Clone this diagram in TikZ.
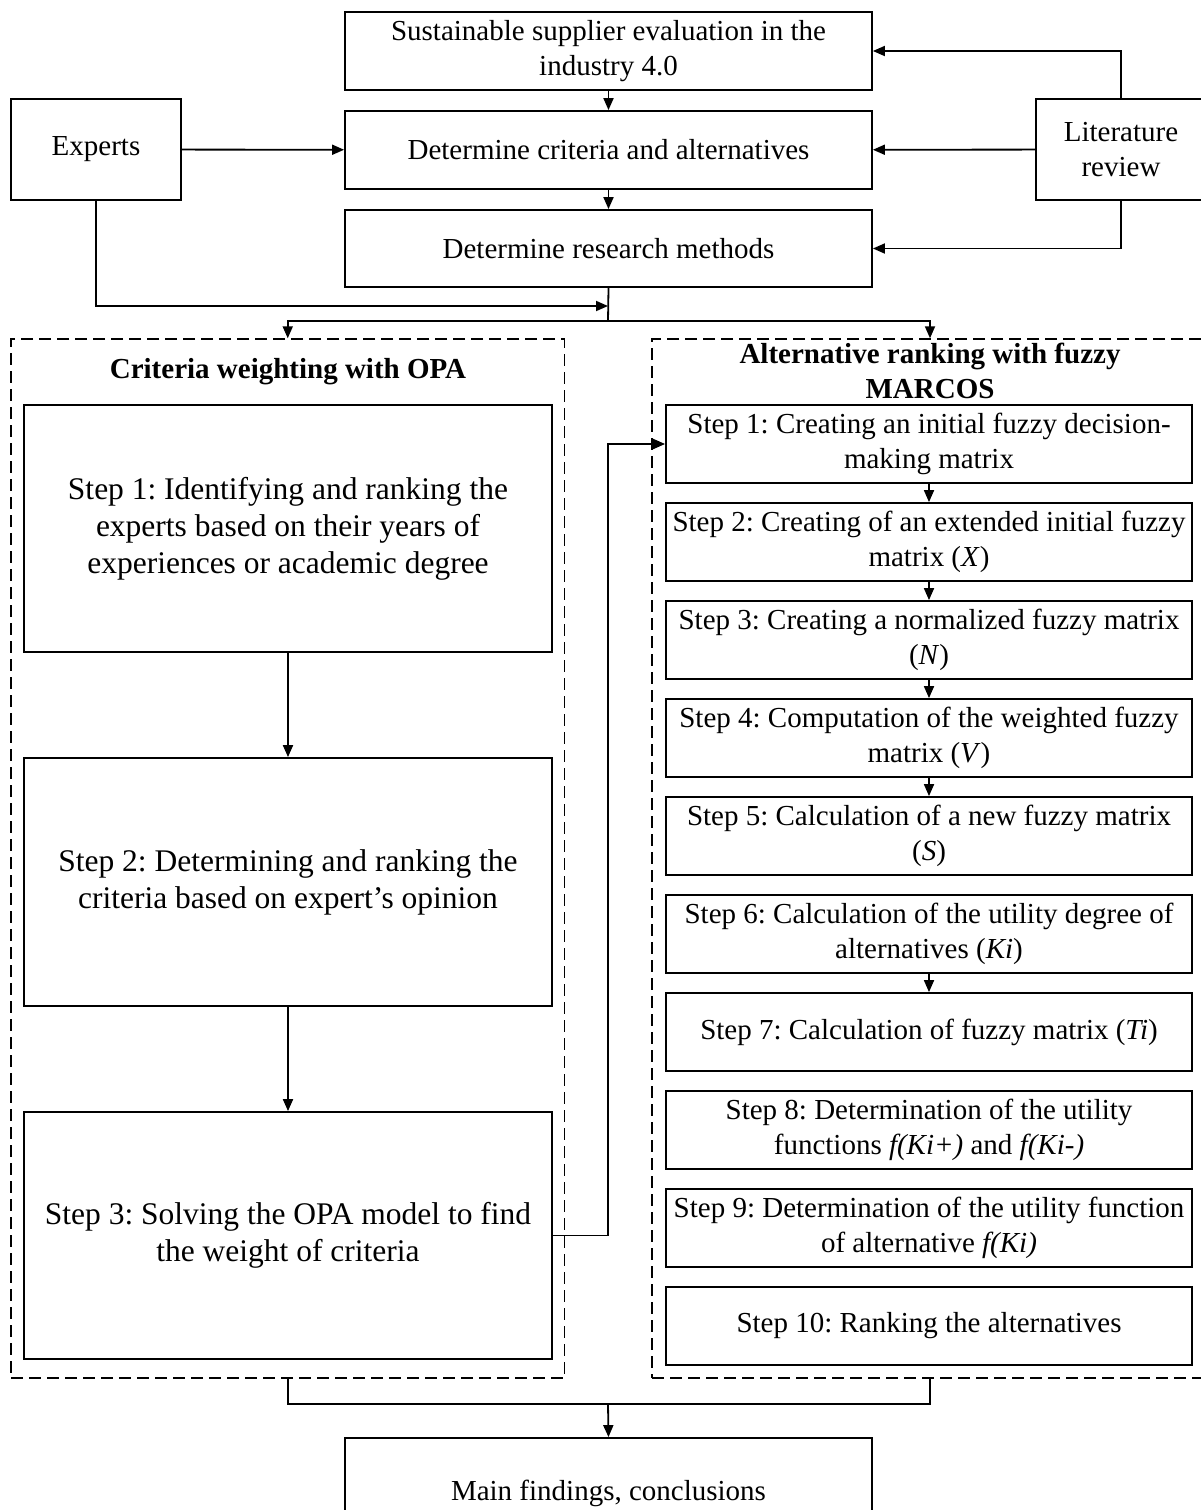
\documentclass[tikz,border=0pt]{standalone}
\usepackage{fontspec}
\setmainfont{Liberation Serif}
\usetikzlibrary{arrows.meta}
\newcommand\tfs{\fontsize{29}{35}\selectfont\frenchspacing}
\newcommand\lfs{\fontsize{31.5}{37}\selectfont\frenchspacing}
\begin{document}
\frenchspacing
\begin{tikzpicture}[x=1pt,y=-1pt,
  box/.style={draw, line width=1.8pt, inner sep=0pt, align=center, font=\tfs},
  lbox/.style={draw, line width=1.8pt, inner sep=0pt, align=center, font=\lfs,
    minimum width=528pt, minimum height=247pt},
  rbox/.style={draw, line width=1.8pt, inner sep=0pt, align=center, font=\tfs,
    minimum width=526pt, minimum height=78pt},
  cbox/.style={draw, line width=1.8pt, inner sep=0pt, minimum width=527pt, minimum height=78pt, align=center, font=\tfs},
  dbox/.style={draw, line width=1.4pt, dash pattern=on 12pt off 6pt, inner sep=0pt},
  ttl/.style={align=center, font=\tfs\bfseries, inner sep=0pt},
  conn/.style={line width=1.8pt},
  arr/.style={line width=1.8pt, -{Triangle[length=12pt,width=10pt]}}]
\useasboundingbox (0,0) rectangle (1201,1510);

% top row
\node[cbox] (top) at (608.5,51) {Sustainable supplier evaluation in the\\industry 4.0};
\node[cbox] (mid) at (608.5,150) {Determine criteria and alternatives};
\node[cbox, minimum height=77pt] (res) at (608.5,248.5) {Determine research methods};
\node[box, minimum width=170pt, minimum height=101pt] (exp) at (96,149.5) {Experts};
\node[box, minimum width=170pt, minimum height=101pt] (lit) at (1121,149.5) {Literature\\review};

\coordinate (j1) at (608,306);
\coordinate (j2) at (608,321);
\coordinate (j3) at (608,1404);

% dashed containers
\node[dbox, minimum width=553.5pt, minimum height=1039pt] (L) at (287.75,858.5) {};
\node[dbox, minimum width=556pt, minimum height=1039pt] (R) at (930,858.5) {};
\node[ttl] (Lt) at (288,372) {Criteria weighting with OPA};
\node[ttl] (Rt) at (930,370.5) {Alternative ranking with fuzzy\\MARCOS};

% left steps
\node[lbox] (s1) at (288,528.5) {Step 1: Identifying and ranking the\\experts based on their years of\\experiences or academic degree};
\node[lbox, minimum height=248pt] (s2) at (288,882) {Step 2: Determining and ranking the\\criteria based on expert’s opinion};
\node[lbox] (s3) at (288,1235.5) {Step 3: Solving the OPA model to find\\the weight of criteria};

% right steps
\node[rbox] (r1) at (929,444) {Step 1: Creating an initial fuzzy decision-\\making matrix};
\node[rbox] (r2) at (929,542) {Step 2: Creating of an extended initial fuzzy\\matrix (\textit{X})};
\node[rbox] (r3) at (929,640) {Step 3: Creating a normalized fuzzy matrix\\(\textit{N})};
\node[rbox] (r4) at (929,738) {Step 4: Computation of the weighted fuzzy\\matrix (\textit{V})};
\node[rbox] (r5) at (929,836) {Step 5: Calculation of a new fuzzy matrix\\(\textit{S})};
\node[rbox] (r6) at (929,934) {Step 6: Calculation of the utility degree of\\alternatives (\textit{Ki})};
\node[rbox] (r7) at (929,1032) {Step 7: Calculation of fuzzy matrix (\textit{Ti})};
\node[rbox] (r8) at (929,1130) {Step 8: Determination of the utility\\functions \textit{f(Ki+)} and \textit{f(Ki-)}};
\node[rbox] (r9) at (929,1228) {Step 9: Determination of the utility function\\of alternative \textit{f(Ki)}};
\node[rbox] (r10) at (929,1326) {Step 10: Ranking the alternatives};

% final
\node[cbox, minimum height=110pt] (fin) at (608.5,1493) {Main findings, conclusions};

% connectors top
\draw[arr] (top) -- (mid);
\draw[arr] (mid) -- (res);
\draw[arr] (exp) -- (mid);
\draw[arr] (lit) -- (mid);
\draw[arr] (lit.north) |- (top.east);
\draw[arr] (lit.south) |- (res.east);
\draw[arr] (exp.south) |- (j1);
\draw[conn] (res.south) -- (j2);
\draw[arr] (j2) -| (L.north);
\draw[arr] (j2) -| (R.north);

% left chain
\draw[arr] (s1) -- (s2);
\draw[arr] (s2) -- (s3);
\draw[arr] (s3.east) -- (s3.east -| j2) |- (r1.west);

% right chain
\draw[arr] (r1) -- (r2);
\draw[arr] (r2) -- (r3);
\draw[arr] (r3) -- (r4);
\draw[arr] (r4) -- (r5);
\draw[arr] (r6) -- (r7);

% bottom
\draw[conn] (L.south) |- (j3);
\draw[conn] (R.south) |- (j3);
\draw[arr] (j3) -- (fin.north);
\end{tikzpicture}
\end{document}
